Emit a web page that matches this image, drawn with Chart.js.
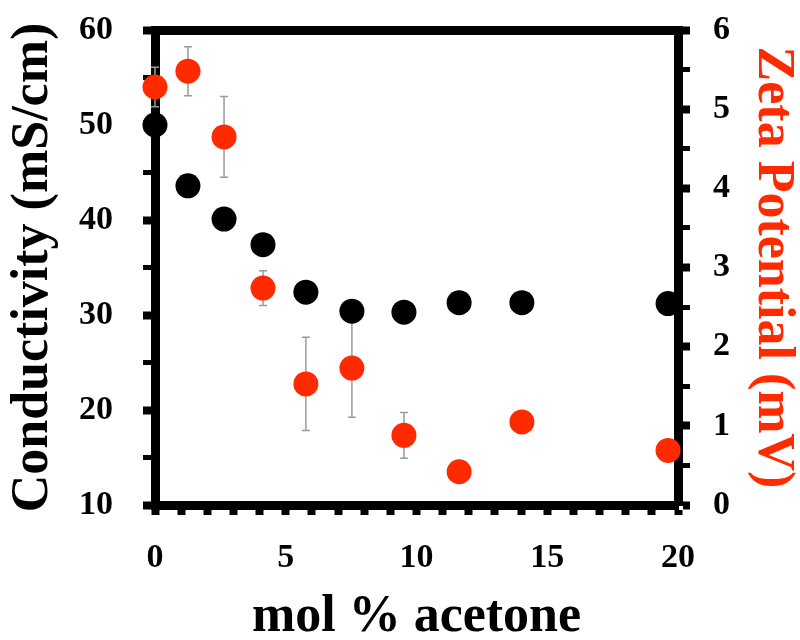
<!DOCTYPE html>
<html>
<head>
<meta charset="utf-8">
<script src="https://cdn.jsdelivr.net/npm/chart.js@4"></script>
<style>
	body { margin: 0; background: #fff; }
	#wrap { width: 800px; height: 640px; }
</style>
</head>
<body>
<div id="wrap"><canvas id="chart" width="800" height="640"></canvas></div>
<script>
// mol % acetone
const molPct = [0, 1.26, 2.64, 4.13, 5.77, 7.53, 9.52, 11.63, 14.03, 19.62];
// conductivity, mS/cm (left axis)
const conductivity = [50.0, 43.6, 40.1, 37.4, 32.4, 30.4, 30.3, 31.3, 31.3, 31.2];
// zeta potential, mV (right axis) + std dev
const zeta = [5.28, 5.48, 4.65, 2.74, 1.53, 1.73, 0.88, 0.42, 1.05, 0.69];
const zetaErr = [0.25, 0.31, 0.51, 0.22, 0.59, 0.62, 0.29, 0, 0, 0];

const RED = '#ff2a00';
const serif = 'Liberation Serif, Times New Roman, serif';

// gray error bars, drawn under the dots
const errorBars = {
	id: 'errorBars',
	beforeDatasetsDraw(chart) {
		const ctx = chart.ctx;
		const xs = chart.scales.x;
		const ys = chart.scales.y1;
		ctx.save();
		ctx.strokeStyle = '#9a9a9a';
		ctx.lineWidth = 1.5;
		zeta.forEach((v, i) => {
			if (!zetaErr[i]) return;
			const px = xs.getPixelForValue(molPct[i]);
			const top = ys.getPixelForValue(v + zetaErr[i]);
			const bot = ys.getPixelForValue(v - zetaErr[i]);
			ctx.beginPath();
			ctx.moveTo(px, top); ctx.lineTo(px, bot);
			ctx.moveTo(px - 4, top); ctx.lineTo(px + 4, top);
			ctx.moveTo(px - 4, bot); ctx.lineTo(px + 4, bot);
			ctx.stroke();
		});
		ctx.restore();
	}
};

// fixed box sizes, no extra room for the edge labels
function fixSize(w, h) {
	return s => {
		if (w) s.width = w;
		if (h) s.height = h;
		s.paddingTop = 0; s.paddingBottom = 0;
		s.paddingLeft = 0; s.paddingRight = 0;
	};
}

const tickFont = { family: serif, size: 34, weight: 'bold' };
const titleFont = { family: serif, size: 52, weight: 'bold' };

new Chart(document.getElementById('chart'), {
	type: 'scatter',
	data: {
		datasets: [
			{
				label: 'Conductivity',
				data: molPct.map((x, i) => ({ x: x, y: conductivity[i] })),
				yAxisID: 'y',
				backgroundColor: '#000',
				borderWidth: 0,
				pointRadius: 12.5,
				pointHoverRadius: 12.5,
				clip: false
			},
			{
				label: 'Zeta Potential',
				data: molPct.map((x, i) => ({ x: x, y: zeta[i] })),
				yAxisID: 'y1',
				backgroundColor: RED,
				borderWidth: 0,
				pointRadius: 12.5,
				pointHoverRadius: 12.5,
				clip: false
			}
		]
	},
	options: {
		responsive: false,
		devicePixelRatio: 1,
		animation: false,
		layout: { padding: 0 },
		plugins: { legend: { display: false }, tooltip: { enabled: false } },
		scales: {
			x: {
				type: 'linear', position: 'bottom', min: 0, max: 20,
				border: { display: true, width: 9, color: '#000' },
				grid: { drawOnChartArea: false, drawTicks: true, tickLength: 10, tickWidth: 8, tickColor: '#000' },
				ticks: {
					stepSize: 1, autoSkip: false, maxRotation: 0, padding: 23,
					color: '#000', font: tickFont,
					callback: v => (v % 5 === 0 ? v : '')
				},
				title: { display: true, text: 'mol % acetone', color: '#000', font: { ...titleFont, lineHeight: 0.85 }, padding: 0 },
				afterFit: fixSize(0, 135)
			},
			x2: {
				type: 'linear', position: 'top', min: 0, max: 20,
				border: { display: true, width: 9, color: '#000' },
				grid: { display: false },
				ticks: { display: false },
				afterFit: fixSize(0, 30)
			},
			y: {
				type: 'linear', position: 'left', min: 10, max: 60,
				border: { display: true, width: 9, color: '#000' },
				grid: {
					drawOnChartArea: false, drawTicks: true, tickLength: 12, tickColor: '#000',
					tickWidth: c => (c.tick && c.tick.value % 10 === 0 ? 8 : 5)
				},
				ticks: {
					stepSize: 5, autoSkip: false, padding: 30,
					color: '#000', font: tickFont,
					callback: v => (v % 10 === 0 ? v : '')
				},
				title: { display: true, text: 'Conductivity (mS/cm)', color: '#000', font: titleFont, padding: { top: 2, bottom: 0 } },
				afterFit: fixSize(155, 0)
			},
			y1: {
				type: 'linear', position: 'right', min: 0, max: 6,
				border: { display: true, width: 9, color: '#000' },
				grid: {
					drawOnChartArea: false, drawTicks: true, tickLength: 12, tickColor: '#000',
					tickWidth: c => (c.tick && c.tick.value % 1 === 0 ? 8 : 5)
				},
				ticks: {
					stepSize: 0.5, autoSkip: false, padding: 23,
					color: '#000', font: tickFont,
					callback: v => (v % 1 === 0 ? v : '')
				},
				title: { display: true, text: 'Zeta Potential (mV)', color: RED, font: { ...titleFont, lineHeight: 1.05 }, padding: 0 },
				afterFit: fixSize(122, 0)
			}
		}
	},
	plugins: [errorBars]
});
</script>
</body>
</html>
